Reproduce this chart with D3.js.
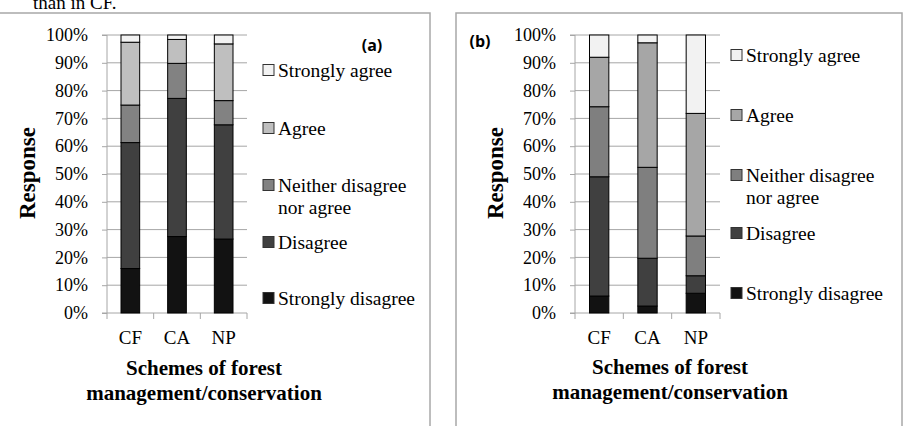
<!DOCTYPE html>
<html>
<head>
<meta charset="utf-8">
<script src="https://cdn.jsdelivr.net/npm/d3@7/dist/d3.min.js"></script>
<style>
  html, body { margin: 0; padding: 0; background: #fff; }
  svg { display: block; }
</style>
</head>
<body>
<svg id="chart" width="905" height="426"></svg>
<script>
// ---------------- DATA ----------------
const categories = ["CF", "CA", "NP"];
const seriesNames = ["Strongly disagree", "Disagree", "Neither disagree nor agree", "Agree", "Strongly agree"];
const yTickValues = [0, 10, 20, 30, 40, 50, 60, 70, 80, 90, 100];

// Panel (a) percentages per scheme (CF, CA, NP)
const aStronglyDisagree = [16.0, 27.5, 26.6];
const aDisagree         = [45.3, 49.7, 41.1];
const aNeither          = [13.5, 12.6, 8.7];
const aAgree            = [22.6, 8.6, 20.4];
const aStronglyAgree    = [2.6, 1.6, 3.2];

// Panel (b) percentages per scheme (CF, CA, NP)
const bStronglyDisagree = [6.1, 2.5, 7.1];
const bDisagree         = [42.9, 17.2, 6.3];
const bNeither          = [25.2, 32.7, 14.3];
const bAgree            = [17.8, 44.8, 44.1];
const bStronglyAgree    = [8.0, 2.8, 28.2];

// ---------------- DRAW ----------------
const SERIF = '"Liberation Serif", "Times New Roman", serif';
const SANS = '"Open Sans", "Liberation Sans", sans-serif';
const svg = d3.select("#chart");

// stray caption text at top of the page (cut off by the crop)
svg.append("text").attr("x", 33).attr("y", 9).style("font-family", SERIF)
  .style("font-size", "19px").attr("fill", "#000").text("than in CF.");

function panel(cfg) {
  const g = svg.append("g");
  // frame
  g.append("rect").attr("x", cfg.frame[0]).attr("y", cfg.frame[1])
    .attr("width", cfg.frame[2]).attr("height", cfg.frame[3])
    .attr("fill", "none").attr("stroke", "#a8a8a8").attr("stroke-width", 1.5);

  const x = d3.scaleBand().domain(categories).range([cfg.x0, cfg.x1])
    .paddingInner(0.6).paddingOuter(0.3);
  const y = d3.scaleLinear().domain([0, 100]).range([cfg.yBottom, cfg.yTop]);

  // gridlines
  g.append("g").selectAll("line").data(yTickValues.filter(v => v > 0)).join("line")
    .attr("x1", cfg.x0).attr("x2", cfg.x1)
    .attr("y1", d => y(d)).attr("y2", d => y(d))
    .attr("stroke", "#a6a6a6").attr("stroke-width", 1);

  // y axis
  const ya = g.append("g").attr("transform", `translate(${cfg.x0},0)`)
    .call(d3.axisLeft(y).tickValues(yTickValues).tickFormat(d => d + "%").tickSize(5).tickPadding(14));
  ya.selectAll("path,line").attr("stroke", "#a6a6a6");
  ya.select(".domain").attr("d", `M-5,${cfg.yTop}H0V${cfg.yBottom}H-5`);
  ya.selectAll("text").style("font-family", SERIF).style("font-size", "18px").attr("fill", "#000");

  // x axis with ticks at category boundaries
  const xa = g.append("g").attr("transform", `translate(0,${cfg.yBottom})`);
  xa.append("line").attr("x1", cfg.x0).attr("x2", cfg.x1).attr("stroke", "#a6a6a6");
  const step = x.step();
  const bounds = d3.range(categories.length + 1).map(i => cfg.x0 + i * step);
  xa.selectAll("line.tk").data(bounds).join("line").attr("class", "tk")
    .attr("x1", d => d).attr("x2", d => d).attr("y1", 0).attr("y2", 6).attr("stroke", "#a6a6a6");
  xa.selectAll("text").data(categories).join("text")
    .attr("x", d => x(d) + x.bandwidth() / 2).attr("y", 24)
    .attr("dy", "0.35em").attr("text-anchor", "middle")
    .style("font-family", SERIF).style("font-size", "19px").attr("fill", "#000").text(d => d);

  // stacked bars
  const rows = categories.map((c, i) => {
    const r = { cat: c };
    seriesNames.forEach((s, k) => r[s] = cfg.series[k][i]);
    return r;
  });
  const stacked = d3.stack().keys(seriesNames)(rows);
  g.append("g").selectAll("g").data(stacked).join("g")
    .attr("fill", (d, k) => cfg.colors[k])
    .selectAll("rect").data(d => d).join("rect")
    .attr("x", d => x(d.data.cat)).attr("width", x.bandwidth())
    .attr("y", d => y(d[1])).attr("height", d => y(d[0]) - y(d[1]))
    .attr("stroke", "#000").attr("stroke-width", 1);

  // axis titles
  g.append("text").attr("transform", `translate(${cfg.respX},${(cfg.yTop + cfg.yBottom) / 2 - 1}) rotate(-90)`)
    .attr("text-anchor", "middle").attr("dy", "0.35em")
    .style("font-family", SERIF).style("font-size", "23px").style("font-weight", "bold")
    .attr("fill", "#000").text("Response");
  const tx = g.append("text").attr("text-anchor", "middle")
    .style("font-family", SERIF).style("font-size", "21px").style("font-weight", "bold").attr("fill", "#000");
  tx.append("tspan").attr("x", cfg.titleX).attr("y", cfg.titleY).attr("dy", "0.35em").text("Schemes of forest");
  tx.append("tspan").attr("x", cfg.titleX).attr("y", cfg.titleY + 25).attr("dy", "0.35em").text("management/conservation");

  // panel letter
  g.append("text").attr("x", cfg.letter[0]).attr("y", cfg.letter[1]).attr("dy", "0.35em")
    .attr("text-anchor", "middle").style("font-family", SANS)
    .style("font-weight", "bold").style("font-size", "16px").attr("fill", "#000").text(cfg.letterText);

  // legend (top to bottom: strongly agree ... strongly disagree)
  const order = [4, 3, 2, 1, 0];
  order.forEach((k, j) => {
    const yy = cfg.legendY[j];
    g.append("rect").attr("x", cfg.legendX).attr("y", yy - 5.5).attr("width", 11).attr("height", 11)
      .attr("fill", cfg.colors[k]).attr("stroke", "#333").attr("stroke-width", 1);
    const t = g.append("text").style("font-family", SERIF).style("font-size", "19.5px").attr("fill", "#000");
    if (k === 2) {
      t.append("tspan").attr("x", cfg.legendX + 15).attr("y", yy).attr("dy", "0.35em").text("Neither disagree");
      t.append("tspan").attr("x", cfg.legendX + 15).attr("y", yy + 22).attr("dy", "0.35em").text("nor agree");
    } else {
      t.attr("x", cfg.legendX + 15).attr("y", yy).attr("dy", "0.35em").text(seriesNames[k]);
    }
  });
}

panel({
  frame: [-2, 13, 432, 430],
  x0: 107, x1: 247, yTop: 35, yBottom: 313,
  series: [aStronglyDisagree, aDisagree, aNeither, aAgree, aStronglyAgree],
  colors: ["#121212", "#404040", "#828282", "#bfbfbf", "#f2f2f2"],
  respX: 27, titleX: 204, titleY: 368,
  letter: [372, 45], letterText: "(a)",
  legendX: 263, legendY: [70, 128, 185, 242, 298]
});

panel({
  frame: [456, 13, 446, 430],
  x0: 575, x1: 720, yTop: 35, yBottom: 313,
  series: [bStronglyDisagree, bDisagree, bNeither, bAgree, bStronglyAgree],
  colors: ["#121212", "#404040", "#7f7f7f", "#a6a6a6", "#f2f2f2"],
  respX: 495, titleX: 670, titleY: 367,
  letter: [480, 41], letterText: "(b)",
  legendX: 731, legendY: [55, 115, 175, 233, 293]
});
</script>
</body>
</html>
